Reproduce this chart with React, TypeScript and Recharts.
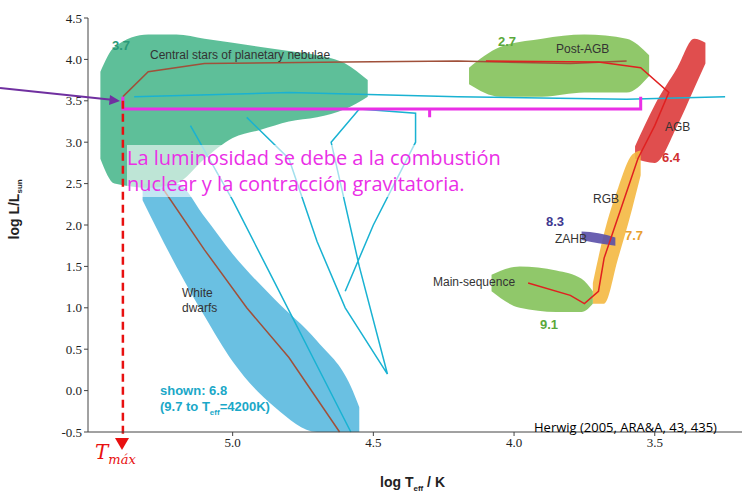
import React from "react";
import { ComposedChart, Area, Line, XAxis, YAxis, ReferenceLine } from "recharts";

const xTicks = [5.0, 4.5, 4.0, 3.5];
const yTicks = [-0.5, 0, 0.5, 1, 1.5, 2, 2.5, 3, 3.5, 4, 4.5];

const pnBlob = [
  { x: 5.47, r: [2.8, 3.85] }, { x: 5.42, r: [2.5, 4.15] }, { x: 5.3, r: [2.45, 4.3] },
  { x: 5.2, r: [2.5, 4.3] }, { x: 5.1, r: [2.8, 4.25] }, { x: 5.0, r: [3.05, 4.2] },
  { x: 4.9, r: [3.15, 4.15] }, { x: 4.8, r: [3.25, 4.1] }, { x: 4.7, r: [3.3, 4.05] },
  { x: 4.6, r: [3.4, 3.95] }, { x: 4.52, r: [3.55, 3.75] },
];
const wdBlob = [
  { x: 5.32, r: [2.3, 2.5] }, { x: 5.2, r: [1.5, 2.5] }, { x: 5.1, r: [0.9, 2.1] },
  { x: 5.0, r: [0.35, 1.65] }, { x: 4.85, r: [-0.2, 1.1] }, { x: 4.7, r: [-0.5, 0.6] },
  { x: 4.58, r: [-0.5, 0.05] }, { x: 4.55, r: [-0.5, -0.2] },
];
const postAgbBlob = [
  { x: 4.16, r: [3.7, 3.9] }, { x: 4.05, r: [3.55, 4.15] }, { x: 3.9, r: [3.55, 4.25] },
  { x: 3.75, r: [3.6, 4.3] }, { x: 3.6, r: [3.6, 4.25] }, { x: 3.52, r: [3.8, 4.05] },
];
const agbBlob = [
  { x: 3.57, r: [2.8, 2.95] }, { x: 3.5, r: [2.75, 3.45] }, { x: 3.42, r: [3.2, 3.9] },
  { x: 3.36, r: [3.65, 4.25] }, { x: 3.32, r: [3.95, 4.2] },
];
const rgbBlob = [
  { x: 3.72, r: [1.05, 1.3] }, { x: 3.68, r: [1.05, 1.9] }, { x: 3.63, r: [1.6, 2.45] },
  { x: 3.58, r: [2.2, 2.85] }, { x: 3.55, r: [2.6, 2.9] },
];
const msBlob = [
  { x: 4.08, r: [1.2, 1.4] }, { x: 3.98, r: [1.0, 1.5] }, { x: 3.85, r: [0.95, 1.45] },
  { x: 3.76, r: [0.95, 1.35] }, { x: 3.72, r: [1.05, 1.2] },
];
const zahbBlob = [
  { x: 3.76, r: [1.82, 1.92] }, { x: 3.7, r: [1.78, 1.9] }, { x: 3.64, r: [1.75, 1.85] },
];

const brownTrack = [
  { x: 5.39, y: 3.55 }, { x: 5.3, y: 3.85 }, { x: 5.1, y: 3.95 }, { x: 4.6, y: 3.97 },
  { x: 4.2, y: 3.98 }, { x: 3.8, y: 3.95 }, { x: 3.6, y: 3.98 },
];
const wdTrack = [
  { x: 5.25, y: 2.45 }, { x: 5.1, y: 1.7 }, { x: 4.95, y: 1.0 }, { x: 4.8, y: 0.4 },
  { x: 4.62, y: -0.5 },
];
const redTrack = [
  { x: 4.1, y: 3.98 }, { x: 3.7, y: 3.97 }, { x: 3.55, y: 3.9 }, { x: 3.45, y: 3.6 },
  { x: 3.5, y: 3.2 }, { x: 3.56, y: 2.8 }, { x: 3.62, y: 2.2 }, { x: 3.68, y: 1.6 },
  { x: 3.7, y: 1.2 }, { x: 3.75, y: 1.05 }, { x: 3.8, y: 1.15 }, { x: 3.95, y: 1.3 },
];
const cyanTrack = [
  { x: 5.35, y: 3.55 }, { x: 4.8, y: 3.6 }, { x: 4.2, y: 3.55 }, { x: 3.6, y: 3.52 },
  { x: 3.25, y: 3.55 },
];
const cyanLoop = [
  { x: 4.95, y: 3.3 }, { x: 4.8, y: 2.8 }, { x: 4.7, y: 1.8 }, { x: 4.6, y: 1.0 },
  { x: 4.45, y: 0.2 }, { x: 4.55, y: 1.5 }, { x: 4.65, y: 3.0 }, { x: 4.55, y: 3.4 },
  { x: 4.35, y: 3.35 }, { x: 4.35, y: 3.0 }, { x: 4.5, y: 2.0 }, { x: 4.6, y: 1.2 },
];
const cyanWd = [
  { x: 5.15, y: 3.2 }, { x: 5.0, y: 2.3 }, { x: 4.85, y: 1.3 }, { x: 4.7, y: 0.3 },
  { x: 4.58, y: -0.5 },
];
const bracket = [
  { x: 5.39, y: 3.55 }, { x: 5.39, y: 3.4 }, { x: 4.3, y: 3.4 }, { x: 4.3, y: 3.3 },
  { x: 4.3, y: 3.4 }, { x: 3.55, y: 3.4 }, { x: 3.55, y: 3.55 },
];

const lbl = (x: number, y: number, text: React.ReactNode, style: React.CSSProperties = {}) => (
  <div style={{ position: "absolute", left: x, top: y, fontFamily: "Liberation Sans, Arial", fontSize: 12, color: "#333", whiteSpace: "nowrap", ...style }}>
    {text}
  </div>
);

export default function App() {
  const blob = (d: any[], fill: string, op = 0.9) => (
    <Area data={d} dataKey="r" type="monotone" fill={fill} fillOpacity={op} stroke="none" isAnimationActive={false} />
  );
  const line = (d: any[], c: string, w = 1.5) => (
    <Line data={d} dataKey="y" type="linear" stroke={c} strokeWidth={w} dot={false} isAnimationActive={false} />
  );
  return (
    <div style={{ position: "absolute", left: 0, top: 0, width: 747, height: 502, background: "#fff" }}>
      <ComposedChart width={747} height={502} margin={{ top: 18, right: 5, bottom: 0, left: 0 }}>
        <XAxis type="number" dataKey="x" domain={[3.19, 5.514]} reversed ticks={xTicks} allowDuplicatedCategory={false}
          tickFormatter={(v) => v.toFixed(1)} height={70} tick={{ fontSize: 13, fill: "#222" }} stroke="#444" tickSize={4} />
        <YAxis type="number" domain={[-0.5, 4.5]} ticks={yTicks} width={88}
          tickFormatter={(v) => v.toFixed(1)} tick={{ fontSize: 13, fill: "#222" }} stroke="#444" tickSize={4} />
        {blob(wdBlob, "#5ab9df")}
        {blob(pnBlob, "#4cb88e")}
        {blob(postAgbBlob, "#84c25a")}
        {blob(agbBlob, "#dd3b3b")}
        {blob(rgbBlob, "#f4b841")}
        {blob(msBlob, "#84c25a")}
        {blob(zahbBlob, "#5a4fa8")}
        {line(cyanTrack, "#19b2d2")}
        {line(cyanLoop, "#19b2d2")}
        {line(cyanWd, "#19b2d2")}
        {line(brownTrack, "#a0503a")}
        {line(wdTrack, "#a0503a")}
        {line(redTrack, "#e02020")}
        {line(bracket, "#ea2fe6", 3)}
        <ReferenceLine segment={[{ x: 5.39, y: 3.5 }, { x: 5.39, y: -0.58 }]} ifOverflow="visible" stroke="#e81010" strokeWidth={2.5} strokeDasharray="8 5" />
      </ComposedChart>
      <svg style={{ position: "absolute", left: 0, top: 0 }} width={747} height={502}>
        <line x1={0} y1={88} x2={114} y2={100} stroke="#7030a0" strokeWidth={2} />
        <polygon points="120,101 110,95 109,105" fill="#7030a0" />
        <polygon points="122,450 115,438 129,438" fill="#e81010" />
      </svg>
      {lbl(150, 48, "Central stars of planetary nebulae")}
      {lbl(112, 38, "3.7", { color: "#2a9a78", fontWeight: "bold", fontSize: 13 })}
      {lbl(498, 34, "2.7", { color: "#5aa83a", fontWeight: "bold", fontSize: 13 })}
      {lbl(556, 42, "Post-AGB")}
      {lbl(665, 120, "AGB")}
      {lbl(662, 150, "6.4", { color: "#d03030", fontWeight: "bold", fontSize: 13 })}
      {lbl(593, 192, "RGB")}
      {lbl(546, 214, "8.3", { color: "#403890", fontWeight: "bold", fontSize: 13 })}
      {lbl(555, 232, "ZAHB")}
      {lbl(625, 228, "7.7", { color: "#e8a030", fontWeight: "bold", fontSize: 13 })}
      {lbl(433, 275, "Main-sequence")}
      {lbl(540, 317, "9.1", { color: "#5aa83a", fontWeight: "bold", fontSize: 13 })}
      {lbl(182, 286, <span>White<br />dwarfs</span>, { lineHeight: "15px" })}
      {lbl(160, 383, <span>shown: 6.8<br />(9.7 to T<sub style={{ fontSize: 8 }}>eff</sub>=4200K)</span>, { color: "#1aa8c8", fontWeight: "bold", fontSize: 13, lineHeight: "16px" })}
      {lbl(127, 145, <span>La luminosidad se debe a la combustión<br />nuclear y la contracción gravitatoria.</span>, { color: "#ea2fe6", fontFamily: "Open Sans", fontSize: 20, lineHeight: "26px", background: "rgba(255,255,255,0.6)" })}
      {lbl(534, 418, "Herwig (2005, ARA&A, 43, 435)", { color: "#000", fontFamily: "Open Sans", fontSize: 13 })}
      {lbl(95, 440, <span>T<sub style={{ fontSize: 13 }}>máx</sub></span>, { color: "#e81010", fontStyle: "italic", fontFamily: "DejaVu Serif", fontSize: 20 })}
      {lbl(380, 474, <span>log T<sub style={{ fontSize: 8 }}>eff</sub> / K</span>, { color: "#222", fontWeight: "bold", fontSize: 14 })}
      {lbl(-15, 200, <span>log L/L<sub style={{ fontSize: 8 }}>sun</sub></span>, { color: "#222", fontWeight: "bold", fontSize: 14, transform: "rotate(-90deg)", transformOrigin: "center" })}
    </div>
  );
}
